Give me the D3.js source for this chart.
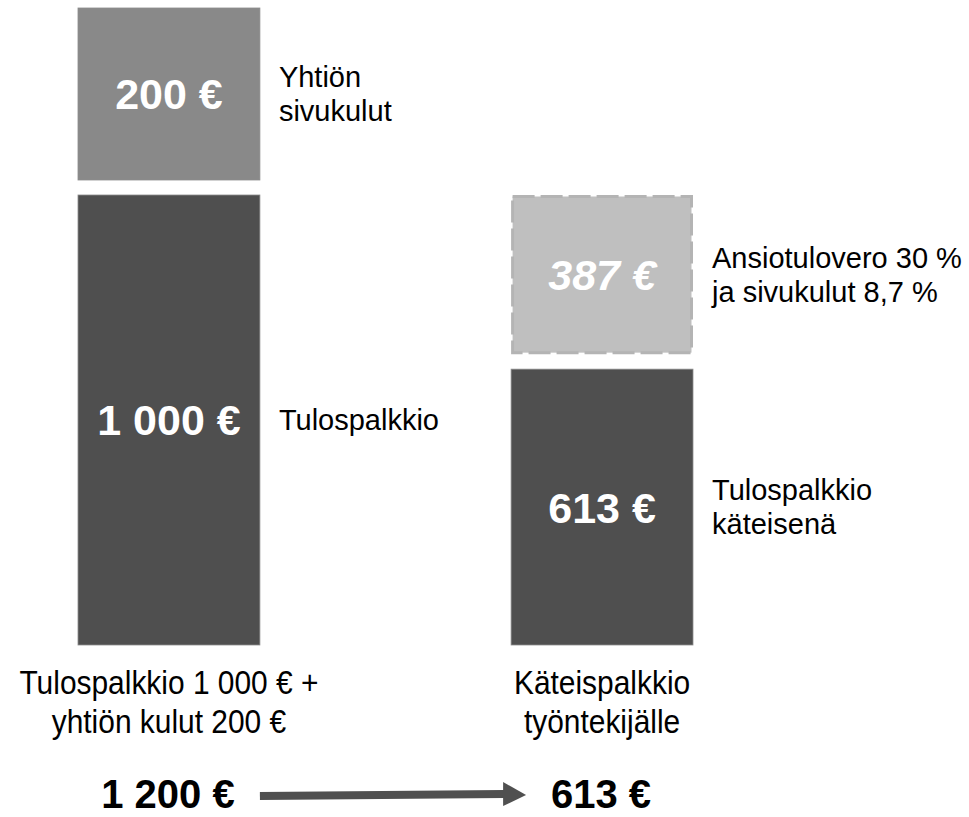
<!DOCTYPE html>
<html>
<head>
<meta charset="utf-8">
<script src="https://cdn.jsdelivr.net/npm/d3@7"></script>
<style>
  body { margin: 0; background: #fff; }
  svg { display: block; font-family: "Liberation Sans", Arial, sans-serif; }
</style>
</head>
<body>
<svg id="chart" width="969" height="817"></svg>
<script>
// columns
var columnKeys = ["brutto", "netto"];
var columnLabels = [["Tulospalkkio 1 000 € +", "yhtiön kulut 200 €"], ["Käteispalkkio", "työntekijälle"]];
var columnTotals = [1200, 613];

// stacked blocks, bottom first in each column
var blockColumn = ["brutto", "brutto", "netto", "netto"];
var blockKinds = ["palkkio", "kulut", "kateinen", "vero"];
var blockValues = [1000, 200, 613, 387];
var blockNames = [
    ["Tulospalkkio"],
    ["Yhtiön", "sivukulut"],
    ["Tulospalkkio", "käteisenä"],
    ["Ansiotulovero 30 %", "ja sivukulut 8,7 %"]
];

var svg = d3.select("#chart"),
    baseY = 645,
    gap = 15;

var fi = d3.formatLocale({ decimal: ",", thousands: " ", grouping: [3], currency: ["", " €"] });
var euro = function (v) { return fi.format(",")(v) + " €"; };

var x = d3.scaleBand()
    .domain(columnKeys)
    .range([78, 693])
    .paddingInner(0.58)
    .paddingOuter(0);

// broken value axis: the small cost block is drawn taller, as in the slide
var y = d3.scaleLinear()
    .domain([0, 1000, 1200])
    .range([baseY, 195, 8]);

var color = d3.scaleOrdinal()
    .domain(["palkkio", "kulut", "kateinen", "vero"])
    .range(["#4f4f4f", "#898989", "#4f4f4f", "#bfbfbf"]);

// build stacked rows
var cum = {};
var blocks = blockValues.map(function (v, i) {
    var c = blockColumn[i];
    var s = cum[c] || 0;
    cum[c] = s + v;
    return { col: c, kind: blockKinds[i], value: v, start: s, end: s + v, names: blockNames[i] };
});

var g = svg.append("g");

var block = g.selectAll("g.block")
    .data(blocks)
    .enter().append("g")
    .attr("class", "block");

block.append("rect")
    .attr("x", function (d) { return d.kind === "vero" ? x(d.col) + 1.5 : x(d.col); })
    .attr("y", function (d) { return d.kind === "vero" ? y(d.end) + 1.5 : y(d.end); })
    .attr("width", function (d) { return d.kind === "vero" ? x.bandwidth() - 3 : x.bandwidth(); })
    .attr("height", function (d) {
        var h = y(d.start) - y(d.end) - (d.start > 0 ? gap : 0);
        return d.kind === "vero" ? h - 3 : h;
    })
    .attr("fill", function (d) { return color(d.kind); })
    .attr("stroke", function (d) { return d.kind === "vero" ? "#b4b4b4" : "#8c8c8c"; })
    .attr("stroke-width", function (d) { return d.kind === "vero" ? 3 : 0.8; })
    .attr("stroke-dasharray", function (d) { return d.kind === "vero" ? "22 6" : null; });

function midY(d) {
    return (y(d.end) + y(d.start) - (d.start > 0 ? gap : 0)) / 2;
}

block.append("text")
    .attr("x", function (d) { return x(d.col) + x.bandwidth() / 2; })
    .attr("y", midY)
    .attr("dy", "0.36em")
    .attr("text-anchor", "middle")
    .attr("fill", "#fff")
    .attr("font-size", 43)
    .attr("font-weight", "bold")
    .attr("font-style", function (d) { return d.kind === "vero" ? "italic" : null; })
    .text(function (d) { return euro(d.value); });

block.append("text")
    .attr("x", function (d) { return x(d.col) + x.bandwidth() + 19; })
    .attr("y", midY)
    .attr("font-size", 29)
    .attr("fill", "#000")
    .selectAll("tspan")
    .data(function (d) {
        var n = d.names.length;
        return d.names.map(function (t, i) { return { t: t, dy: (i - (n - 1) / 2) * 34 }; });
    })
    .enter().append("tspan")
    .attr("x", function () { return d3.select(this.parentNode).attr("x"); })
    .attr("dy", function (d, i) { return i === 0 ? (d.dy + 10) : 34; })
    .text(function (d) { return d.t; });

// column captions (narrow type)
var cap = g.selectAll("g.caption")
    .data(columnKeys)
    .enter().append("g")
    .attr("class", "caption")
    .attr("transform", function (d) { return "translate(" + (x(d) + x.bandwidth() / 2) + ",694) scale(0.88,1)"; });

cap.append("text")
    .attr("text-anchor", "middle")
    .attr("font-size", 34)
    .attr("fill", "#000")
    .selectAll("tspan")
    .data(function (d, i) { return columnLabels[i]; })
    .enter().append("tspan")
    .attr("x", 0)
    .attr("dy", function (d, i) { return i === 0 ? 0 : 39; })
    .text(function (d) { return d; });

// totals
g.selectAll("text.total")
    .data(columnKeys)
    .enter().append("text")
    .attr("class", "total")
    .attr("x", function (d) { return x(d) + x.bandwidth() / 2 - 1; })
    .attr("y", 808)
    .attr("text-anchor", "middle")
    .attr("font-size", 40)
    .attr("font-weight", "bold")
    .attr("fill", "#000")
    .text(function (d, i) { return euro(columnTotals[i]); });

// arrow between totals
var ax0 = x(columnKeys[0]) + x.bandwidth(),
    ax1 = x(columnKeys[1]) + 15,
    ay = 795;

g.append("line")
    .attr("x1", ax0)
    .attr("x2", ax1 - 22)
    .attr("y1", ay + 1)
    .attr("y2", ay - 1)
    .attr("stroke", "#505050")
    .attr("stroke-width", 8);

g.append("path")
    .attr("d", "M" + (ax1 - 23) + "," + (ay - 13) + "L" + ax1 + "," + ay + "L" + (ax1 - 23) + "," + (ay + 11) + "Z")
    .attr("fill", "#505050");
</script>
</body>
</html>
